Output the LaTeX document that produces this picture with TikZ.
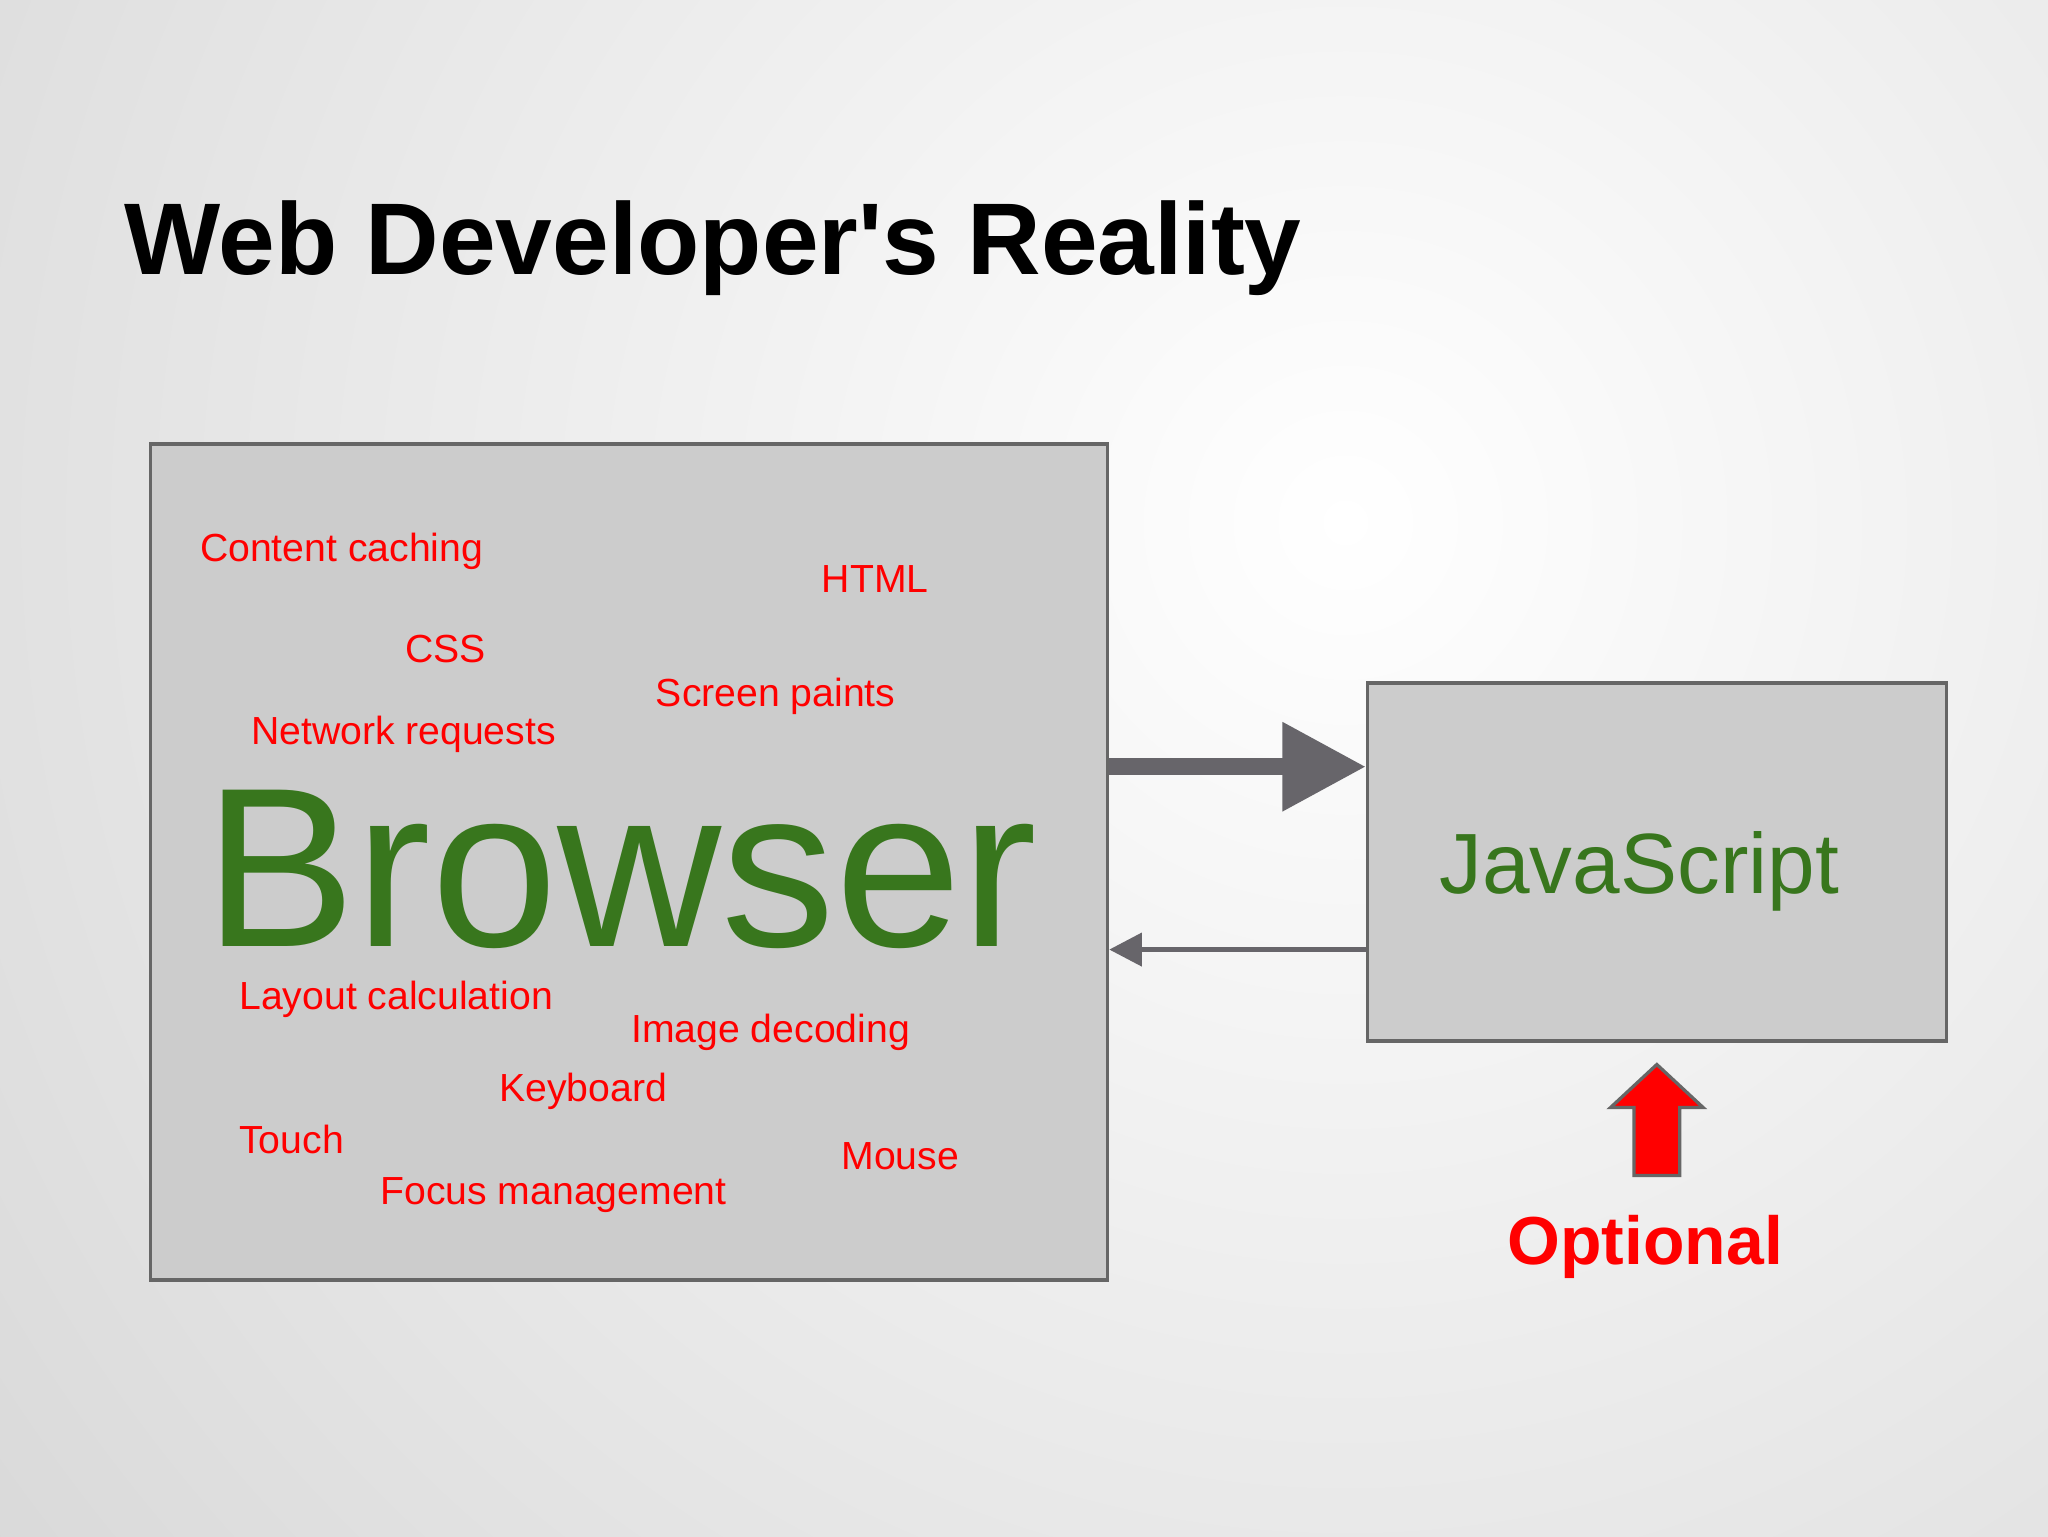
\documentclass[tikz,border=0pt]{standalone}
\usepackage{fontspec}
\setmainfont{Liberation Sans}[Ligatures=TeXOff]
\usetikzlibrary{arrows.meta}
\definecolor{boxgray}{HTML}{CCCCCC}
\definecolor{edgegray}{HTML}{666666}
\definecolor{arrowgray}{HTML}{67656A}
\definecolor{bggray}{HTML}{CFCFCF}
\definecolor{slidegreen}{HTML}{38761D}
\definecolor{slidered}{HTML}{FF0000}
\tikzset{
  bigbox/.style={draw=edgegray, fill=boxgray, line width=2.5pt, inner sep=0pt},
  item/.style={anchor=base west, inner sep=0pt, text=slidered, font=\fontsize{30}{36}\selectfont},
}
\begin{document}
\begin{tikzpicture}[x=1pt, y=-1pt]
\useasboundingbox (0,0) rectangle (1568,1176);
\begin{scope}
\clip (0,0) rectangle (1568,1176);
\fill[bggray] (0,0) rectangle (1568,1176);
\shade[inner color=white, outer color=bggray] (1030,400) circle (1650);
\end{scope}
% title
\node[anchor=base west, inner sep=0pt, font=\fontsize{78}{90}\selectfont\bfseries] (title) at (95,210) {Web Developer's Reality};
% boxes
\node[bigbox, minimum width=733pt, minimum height=640pt] (browser) at (481.5,660) {};
\node[bigbox, minimum width=443pt, minimum height=274pt] (js) at (1268.5,660) {};
% words
\node[item] (cc) at (153,430) {Content caching};
\node[item] (html) at (629,454) {HTML};
\node[item] (css) at (310,507) {CSS};
\node[item] (sp) at (502,541) {Screen paints};
\node[item] (nr) at (192,570) {Network requests};
\node[item] (lc) at (183,773) {Layout calculation};
\node[item] (id) at (483,798) {Image decoding};
\node[item] (kb) at (382,843) {Keyboard};
\node[item] (touch) at (183,883) {Touch};
\node[item] (mouse) at (644,895) {Mouse};
\node[item] (fm) at (291,922) {Focus management};
\node[anchor=base west, inner sep=0pt, text=slidegreen, font=\fontsize{174}{200}\selectfont] (btext) at (156,725) {Browser};
\node[anchor=base west, inner sep=0pt, text=slidegreen, font=\fontsize{65.5}{80}\selectfont] (jstext) at (1102,684) {JavaScript};
\node[anchor=base west, inner sep=0pt, text=slidered, font=\fontsize{52}{62}\selectfont\bfseries] (opt) at (1154,968) {Optional};
% arrows
\coordinate (a1s) at (browser.east |- 0,587);
\coordinate (a1e) at (js.west |- 0,587);
\draw[arrowgray, line width=13pt, -{Triangle[length=64pt, width=65pt]}] (a1s) -- (a1e);
\coordinate (a2s) at (js.west |- 0,727);
\coordinate (a2e) at (browser.east |- 0,727);
\draw[arrowgray, line width=4pt, -{Triangle[length=25pt, width=25pt]}] (a2s) -- (a2e);
% red up arrow
\draw[fill=slidered, draw=edgegray, line width=2.5pt, line join=miter]
  (1268.5,815) -- (1304,848) -- (1286,848) -- (1286,900) -- (1251,900) -- (1251,848) -- (1233,848) -- cycle;
\end{tikzpicture}
\end{document}
